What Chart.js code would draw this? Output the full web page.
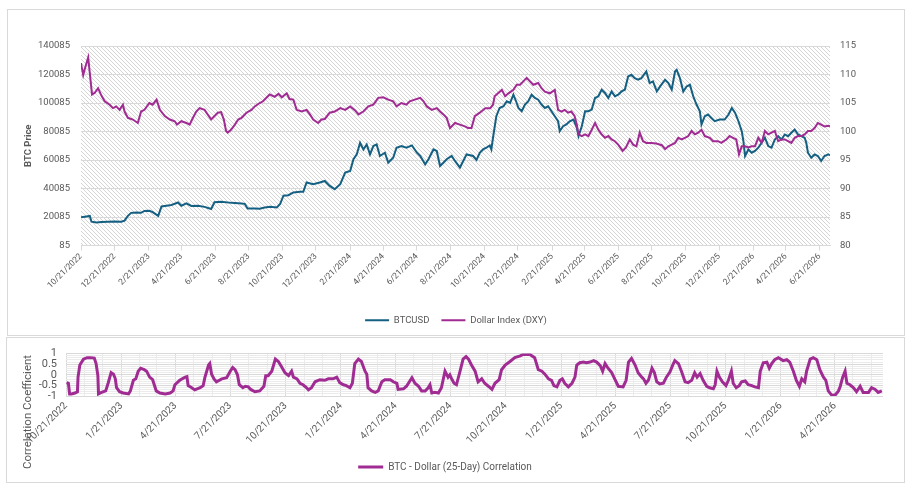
<!DOCTYPE html>
<html>
<head>
<meta charset="utf-8">
<script src="https://cdn.jsdelivr.net/npm/chart.js@4.4.1/dist/chart.umd.min.js"></script>
<style>
  html, body { margin: 0; padding: 0; background: #ffffff; }
  body { width: 917px; height: 495px; position: relative; overflow: hidden; }
  .box { position: absolute; border: 1px solid #d9d9d9; box-sizing: border-box; background: #fff; }
  #topBox { left: 7px; top: 9px; width: 898px; height: 327px; }
  #botBox { left: 6px; top: 337px; width: 899px; height: 146px; }
  canvas { display: block; }
</style>
</head>
<body>
<div class="box" id="topBox"><canvas id="topChart"></canvas></div>
<div class="box" id="botBox"><canvas id="botChart"></canvas></div>
<script>
// ---------- DATA (days counted from 10/21/2022) ----------
const startDate = "10/21/2022";

const btcDays = [0,7,16,19,28,37,49,61,73,79,85,91,100,109,115,124,130,140,146,155,164,176,182,191,200,212,224,236,242,254,273,291,297,302,315,324,333,343,355,361,367,376,385,397,403,409,421,433,442,451,460,470,479,488,494,500,506,512,518,524,530,536,542,551,557,566,572,581,590,600,609,615,624,630,639,645,651,657,663,672,678,687,693,699,711,717,723,729,735,741,744,747,753,759,766,772,778,784,790,793,799,805,811,817,823,829,835,841,847,853,859,865,868,874,880,886,893,899,902,908,914,920,926,932,938,944,950,956,962,968,974,980,986,992,998,1004,1010,1016,1025,1031,1037,1044,1050,1059,1065,1071,1077,1080,1086,1092,1098,1104,1110,1116,1122,1125,1131,1137,1143,1149,1158,1167,1174,1180,1186,1192,1198,1201,1204,1210,1216,1222,1228,1234,1240,1246,1252,1258,1264,1270,1276,1282,1288,1294,1300,1306,1312,1315,1318,1324,1330,1336,1342,1348,1355,1358];
const btcPrice = [19900,20300,20800,16800,16300,16500,16800,16900,16800,17500,20900,23000,23300,23000,24300,24500,23500,20900,27500,28000,28500,30300,28000,29600,27800,28000,27200,25700,30400,30800,30000,29500,29300,26100,26100,25900,26800,27200,26800,29200,35000,35400,37300,37800,37800,44300,43100,44300,45400,41900,39600,43100,51200,52400,60600,64000,72200,67500,71000,64000,69900,71000,62900,65200,58200,61700,68700,69900,68700,70300,65200,62900,57100,60600,67500,66400,55900,58200,60600,62900,59400,54800,59400,64000,62900,60100,65200,67500,68700,70300,67500,75700,90800,96600,97800,101300,100100,105900,100100,96600,94300,99000,101300,105900,103600,102400,99000,96600,97800,94300,90800,87300,80300,83800,85000,87300,88500,82700,76800,83800,94300,94300,95500,103600,104800,109400,107100,103600,108200,104800,105900,108200,109400,118700,119900,117500,116400,117500,122200,114000,115200,108200,111700,116400,114000,109400,122200,123400,117500,108200,111700,112900,104800,99000,94300,85000,90800,92000,89600,87300,88500,88500,92000,96600,93100,87300,80300,73400,62900,67500,65200,66400,68700,72200,75700,69900,68700,74500,76800,74500,78000,76800,79200,81500,78000,76800,75700,72200,65200,61700,64000,62900,59400,62900,64000,63400];

const dxyDays = [0,4,7,13,16,20,25,31,37,43,52,58,64,70,76,79,85,94,103,109,115,124,130,137,143,152,161,170,174,182,191,197,203,209,215,224,236,248,254,259,263,266,272,279,285,291,300,309,315,324,330,342,351,358,364,373,378,385,391,400,409,415,421,430,436,442,451,460,470,479,488,497,503,512,521,530,539,548,557,566,572,581,590,596,605,615,621,627,636,645,651,657,663,669,678,687,696,702,708,714,723,733,742,747,750,756,763,769,775,784,790,796,802,808,814,820,829,835,841,850,859,865,871,877,883,889,895,899,902,908,914,920,926,932,938,944,950,956,962,968,974,982,988,995,1001,1007,1013,1019,1025,1034,1043,1053,1059,1065,1071,1077,1083,1089,1095,1101,1107,1113,1119,1125,1131,1140,1146,1155,1161,1170,1176,1182,1188,1193,1198,1204,1210,1216,1222,1228,1234,1240,1246,1252,1258,1264,1270,1276,1282,1288,1294,1300,1306,1312,1318,1324,1330,1336,1342,1348,1355,1358];
const dxyValue = [112.0,109.9,111.0,113.0,110.2,106.5,106.8,107.6,106.3,105.3,104.7,104.1,104.4,103.8,104.7,103.5,102.4,102.1,101.5,103.5,103.8,105.0,104.7,105.6,103.8,102.7,102.1,101.8,101.2,101.8,101.5,101.2,102.4,103.5,104.1,103.8,102.1,103.3,103.4,102.1,100.1,99.8,100.3,101.2,102.1,102.4,103.3,103.8,104.4,105.0,105.3,106.5,106.1,106.6,106.0,106.7,105.7,105.6,103.8,103.5,103.8,103.0,102.1,101.5,102.1,102.2,103.3,103.5,104.1,103.8,104.4,103.7,103.0,103.5,104.4,104.7,105.9,106.0,105.6,105.3,104.4,105.0,104.7,105.3,105.6,105.9,105.3,104.4,103.8,104.1,103.5,103.0,102.4,100.6,101.5,101.2,100.9,100.6,100.6,102.7,103.3,104.1,104.1,104.7,106.2,106.7,107.3,106.2,106.7,107.3,108.2,108.2,108.8,109.4,108.8,108.2,108.5,107.6,107.0,106.7,107.3,103.8,103.5,103.8,103.3,103.5,102.7,101.2,99.5,99.2,99.5,99.2,100.3,101.5,100.3,99.5,98.9,99.2,98.6,98.3,97.7,96.6,97.2,98.6,97.7,97.4,99.8,98.3,98.0,98.0,97.9,97.6,96.9,97.4,97.7,98.0,98.9,98.6,98.9,99.2,100.1,99.5,99.8,100.3,99.2,98.9,98.3,98.3,98.0,98.6,99.2,98.9,98.6,96.0,97.4,97.4,97.2,97.4,97.4,98.9,98.0,100.1,99.5,99.8,100.1,98.3,98.6,98.6,98.3,98.0,98.9,99.2,99.2,99.5,100.1,100.1,100.6,101.5,101.2,100.9,101.0,100.9];

const corrDays = [1,4,6,9,15,19,20,23,29,35,41,47,50,53,54,59,66,70,75,79,82,84,89,95,104,107,112,116,120,124,130,134,139,144,150,156,165,173,178,181,189,198,201,203,209,214,223,228,231,237,239,242,246,250,259,267,273,277,281,285,288,294,298,303,307,314,322,329,332,336,342,348,353,358,364,370,375,378,384,389,394,400,403,408,414,422,430,436,444,450,455,461,466,472,476,480,486,491,497,500,502,508,514,519,525,530,539,544,550,552,561,566,575,580,586,591,597,602,605,608,613,619,624,630,635,638,641,645,649,655,660,665,669,674,680,685,691,696,702,708,713,720,724,730,738,746,755,760,771,779,785,791,796,802,807,811,816,821,825,829,835,841,846,849,854,860,865,871,877,882,888,892,896,901,907,912,918,926,931,935,940,946,951,957,960,964,968,974,978,982,987,993,998,1004,1009,1012,1018,1023,1029,1034,1040,1045,1049,1054,1059,1065,1070,1076,1079,1082,1086,1091,1097,1101,1106,1109,1114,1119,1123,1129,1134,1140,1145,1151,1154,1159,1165,1169,1173,1178,1184,1192,1198,1203,1209,1214,1219,1223,1228,1231,1237,1242,1248,1253,1259,1263,1267,1273,1279,1284,1287,1291,1295,1298,1303,1309,1314,1320,1325,1334,1339,1345,1350,1356];
const corrValue = [-0.37,-0.40,-0.90,-0.90,-0.86,-0.80,-0.11,0.46,0.74,0.81,0.81,0.79,0.53,-0.04,-0.90,-0.83,-0.76,-0.40,0.10,0.03,-0.19,-0.61,-0.80,-0.86,-0.90,-0.76,-0.26,-0.19,0.17,0.31,0.24,0.17,-0.11,-0.23,-0.76,-0.86,-0.90,-0.86,-0.76,-0.47,-0.26,-0.11,-0.09,-0.51,-0.61,-0.71,-0.61,-0.51,-0.11,0.46,0.53,0.03,-0.19,-0.33,-0.19,-0.14,0.17,0.34,0.24,0.00,-0.47,-0.61,-0.54,-0.57,-0.69,-0.80,-0.76,-0.54,-0.04,-0.04,0.17,0.74,0.63,0.39,0.10,-0.04,0.17,-0.11,-0.19,-0.40,-0.47,-0.61,-0.71,-0.61,-0.33,-0.23,-0.26,-0.19,-0.19,-0.11,-0.37,-0.47,-0.51,-0.61,-0.40,0.53,0.74,0.63,0.17,0.03,-0.61,-0.76,-0.83,-0.76,-0.33,-0.23,-0.23,-0.33,-0.40,-0.69,-0.66,-0.54,-0.14,-0.40,-0.54,-0.76,-0.76,-0.61,-0.47,-0.86,-0.83,-0.86,-0.61,0.17,-0.11,0.00,-0.19,-0.40,-0.47,0.17,0.74,0.86,0.74,0.46,0.17,-0.33,-0.19,-0.40,-0.54,-0.69,-0.40,-0.23,0.24,0.46,0.63,0.81,0.89,0.96,0.96,0.81,0.24,0.17,0.03,-0.19,-0.26,-0.51,-0.57,-0.26,-0.19,-0.40,-0.57,-0.40,-0.11,0.46,0.57,0.60,0.57,0.60,0.67,0.60,0.43,0.17,0.53,0.31,0.10,-0.19,-0.54,-0.57,-0.26,0.60,0.77,0.46,0.10,-0.11,-0.19,-0.40,-0.26,0.31,0.10,-0.33,-0.43,-0.40,-0.11,0.14,0.49,0.67,0.53,0.17,-0.33,-0.37,-0.26,0.10,-0.11,0.06,-0.26,-0.54,-0.61,-0.66,-0.47,0.17,-0.11,-0.33,-0.51,-0.26,0.17,-0.40,-0.61,-0.51,-0.33,-0.29,-0.47,-0.51,-0.57,-0.61,0.17,0.57,0.60,0.31,0.53,0.71,0.81,0.67,0.71,0.60,0.17,-0.26,-0.54,-0.19,-0.33,0.17,0.74,0.81,0.71,0.24,-0.11,-0.26,-0.76,-0.97,-0.94,-0.76,-0.54,-0.11,0.17,-0.40,-0.47,-0.61,-0.80,-0.54,-0.83,-0.83,-0.61,-0.69,-0.83,-0.76];

const topTickLabels = ["10/21/2022","12/21/2022","2/21/2023","4/21/2023","6/21/2023","8/21/2023","10/21/2023","12/21/2023","2/21/2024","4/21/2024","6/21/2024","8/21/2024","10/21/2024","12/21/2024","2/21/2025","4/21/2025","6/21/2025","8/21/2025","10/21/2025","12/21/2025","2/21/2026","4/21/2026","6/21/2026"];
const botTickLabels = ["10/21/2022","1/21/2023","4/21/2023","7/21/2023","10/21/2023","1/21/2024","4/21/2024","7/21/2024","10/21/2024","1/21/2025","4/21/2025","7/21/2025","10/21/2025","1/21/2026","4/21/2026"];
const btcTicks = [85,20085,40085,60085,80085,100085,120085,140085];
const dxyTicks = [80,85,90,95,100,105,110,115];
const corrTickLabels = ["-1","-0.5","0","0.5","1"];
const lastDay = 1358;

// ---------- helpers ----------
function toDay(s) {
  const [m, d, y] = s.split('/').map(Number);
  const [m0, d0, y0] = startDate.split('/').map(Number);
  return Math.round((Date.UTC(y, m - 1, d) - Date.UTC(y0, m0 - 1, d0)) / 86400000);
}
function zipXY(xs, ys) { return xs.map((x, i) => ({ x: x, y: ys[i] })); }

const topTickMap = new Map(topTickLabels.map(s => [toDay(s), s]));
const botTickMap = new Map(botTickLabels.map(s => [toDay(s), s]));
// monthly minor gridlines for the correlation chart
const monthlyDays = [];
(function () {
  let m = 10, y = 2022;
  for (;;) {
    const day = toDay(m + '/21/' + y);
    if (day > lastDay) break;
    monthlyDays.push(day);
    m++; if (m > 12) { m = 1; y++; }
  }
})();
// minor horizontal gridlines every 0.1 (in tenths to keep them exact)
const corrGridTenths = [];
for (let k = -10; k <= 10; k++) corrGridTenths.push(k);
const corrMajorTenths = corrTickLabels.map(s => Math.round(parseFloat(s) * 10));

const TXT = '#595959';
const GRID = '#d9d9d9';
const MINOR = '#ebebeb';
const FONT = 'Roboto, "Liberation Sans", sans-serif';
const BTC_COLOR = '#156082';
const DXY_COLOR = '#A02B93';

const xGridColors = monthlyDays.map(d => botTickMap.has(d) ? GRID : MINOR);
const yGridColors = corrGridTenths.map(k => corrMajorTenths.includes(k) ? GRID : MINOR);

// hatch pattern behind top plot area
function makeHatch() {
  const c = document.createElement('canvas');
  c.width = 4; c.height = 4;
  const g = c.getContext('2d');
  g.strokeStyle = '#cccccc';
  g.lineWidth = 0.85;
  g.beginPath();
  g.moveTo(-1, -1); g.lineTo(5, 5);
  g.moveTo(-1, 3); g.lineTo(1, 5);
  g.moveTo(3, -1); g.lineTo(5, 1);
  g.stroke();
  return c;
}
const hatchPlugin = {
  id: 'hatch',
  beforeDraw(chart) {
    const { ctx, chartArea: a } = chart;
    ctx.save();
    ctx.fillStyle = ctx.createPattern(makeHatch(), 'repeat');
    ctx.fillRect(a.left, a.top, a.right - a.left, a.bottom - a.top);
    ctx.restore();
  }
};

// ---------- top chart ----------
new Chart(document.getElementById('topChart'), {
  type: 'line',
  data: {
    datasets: [
      { label: 'BTCUSD', data: zipXY(btcDays, btcPrice), yAxisID: 'y', borderColor: BTC_COLOR, backgroundColor: BTC_COLOR, borderWidth: 2, pointRadius: 0, tension: 0, order: 1 },
      { label: 'Dollar Index (DXY)', data: zipXY(dxyDays, dxyValue), yAxisID: 'y2', borderColor: DXY_COLOR, backgroundColor: DXY_COLOR, borderWidth: 2, pointRadius: 0, tension: 0, order: 0 }
    ]
  },
  options: {
    responsive: true,
    maintainAspectRatio: false,
    animation: false,
    layout: { padding: { top: 36, left: 0, right: 0, bottom: 0 } },
    plugins: {
      legend: {
        position: 'bottom',
        labels: {
          usePointStyle: true, pointStyle: 'line', pointStyleWidth: 24,
          boxHeight: 9, padding: 12, color: TXT,
          font: { family: FONT, size: 9.5 },
          sort: (a, b) => a.datasetIndex - b.datasetIndex
        }
      },
      tooltip: { enabled: false }
    },
    scales: {
      x: {
        type: 'linear', min: 0, max: lastDay,
        afterBuildTicks: (s) => { s.ticks = topTickLabels.map(t => ({ value: toDay(t) })); },
        afterFit: (s) => { s.height = 58; },
        grid: { display: true, drawOnChartArea: false, drawTicks: true, tickLength: 5, color: GRID },
        border: { display: true, color: GRID },
        ticks: {
          autoSkip: false, maxRotation: 45, minRotation: 45, padding: 1, color: TXT,
          font: { family: FONT, size: 8.5 },
          callback: (v) => topTickMap.get(v) || ''
        }
      },
      y: {
        position: 'left', min: 85, max: 140085,
        afterBuildTicks: (s) => { s.ticks = btcTicks.map(v => ({ value: v })); },
        afterFit: (s) => { s.width = 73; },
        grid: { color: GRID, drawTicks: false },
        border: { display: false },
        ticks: { autoSkip: false, padding: 11, color: TXT, font: { family: FONT, size: 9.5 }, callback: (v) => String(v) },
        title: { display: true, text: 'BTC Price', color: TXT, font: { family: FONT, size: 9.5, weight: 'bold' }, padding: 15 }
      },
      y2: {
        position: 'right', min: 80, max: 115,
        afterBuildTicks: (s) => { s.ticks = dxyTicks.map(v => ({ value: v })); },
        afterFit: (s) => { s.width = 74; },
        grid: { drawOnChartArea: false, drawTicks: false },
        border: { display: false },
        ticks: { autoSkip: false, padding: 10, color: TXT, font: { family: FONT, size: 9.5 }, callback: (v) => String(v) }
      }
    }
  },
  plugins: [hatchPlugin]
});

// ---------- bottom chart ----------
const corrTitlePlugin = {
  id: 'corrTitle',
  afterDraw(chart) {
    const ctx = chart.ctx;
    ctx.save();
    ctx.translate(21, 74);
    ctx.rotate(-Math.PI / 2);
    ctx.fillStyle = TXT;
    ctx.font = '11.5px ' + FONT;
    ctx.textAlign = 'center';
    ctx.textBaseline = 'middle';
    ctx.fillText('Correlation Coefficient', 0, 0);
    ctx.restore();
  }
};

new Chart(document.getElementById('botChart'), {
  type: 'line',
  data: {
    datasets: [
      { label: 'BTC - Dollar (25-Day) Correlation', data: zipXY(corrDays, corrValue), borderColor: DXY_COLOR, backgroundColor: DXY_COLOR, borderWidth: 3, pointRadius: 0, tension: 0 }
    ]
  },
  options: {
    responsive: true,
    maintainAspectRatio: false,
    animation: false,
    layout: { padding: { top: 11, left: 0, right: 21, bottom: 0 } },
    plugins: {
      legend: {
        position: 'bottom',
        labels: {
          usePointStyle: true, pointStyle: 'line', pointStyleWidth: 25,
          boxHeight: 9, padding: 10, color: TXT, font: { family: FONT, size: 10 }
        }
      },
      tooltip: { enabled: false }
    },
    scales: {
      x: {
        type: 'linear', min: 0, max: lastDay,
        afterBuildTicks: (s) => { s.ticks = monthlyDays.map(v => ({ value: v })); },
        afterFit: (s) => { s.height = 56; },
        grid: { drawTicks: false, color: xGridColors },
        border: { display: false },
        ticks: {
          autoSkip: false, maxRotation: 45, minRotation: 45, padding: 4, color: TXT,
          font: { family: FONT, size: 10 },
          callback: (v) => botTickMap.get(v) || ''
        }
      },
      y: {
        min: -1, max: 1,
        afterBuildTicks: (s) => { s.ticks = corrGridTenths.map(k => ({ value: k / 10 })); },
        afterFit: (s) => { s.width = 59; },
        grid: { drawTicks: false, color: yGridColors },
        border: { display: false },
        ticks: {
          autoSkip: false, padding: 9, color: TXT, font: { family: FONT, size: 11 },
          callback: (v) => {
            const k = Math.round(v * 10);
            const i = corrMajorTenths.indexOf(k);
            return i >= 0 ? corrTickLabels[i] : '';
          }
        }
      }
    }
  },
  plugins: [corrTitlePlugin]
});
</script>
</body>
</html>
